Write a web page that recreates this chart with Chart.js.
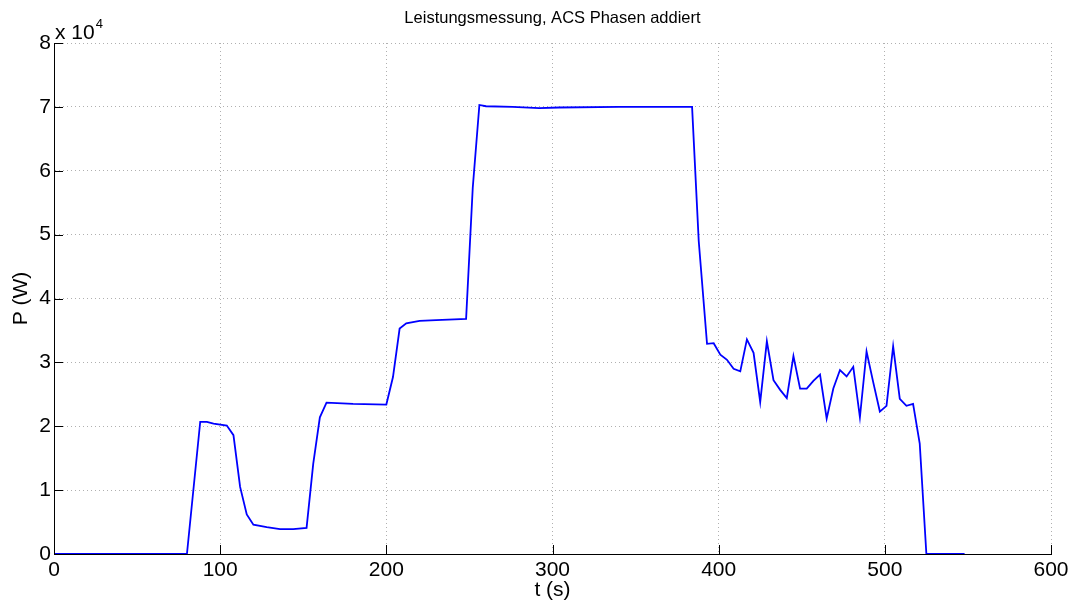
<!DOCTYPE html>
<html>
<head>
<meta charset="utf-8">
<title>Leistungsmessung</title>
<script src="https://cdn.jsdelivr.net/npm/chart.js"></script>
<style>
  body { margin: 0; background: #fff; }
</style>
</head>
<body>
<canvas id="powerChart" width="1081" height="601"></canvas>
<script>
// Leistung ueber Zeit, Summe der drei ACS-Phasen
const timeSec = [
  0, 80, 88, 92, 96, 104, 108, 112, 116, 120, 128, 136, 144, 152, 156, 160, 164, 180, 200,
  204, 208, 212, 220, 230, 248, 252, 256, 260, 276, 292, 304, 340, 384, 388,
  393, 397, 401, 405, 409, 413, 417, 421, 425, 429, 433, 437, 441, 445, 449, 453,
  457, 461, 465, 469, 473, 477, 481, 485, 489, 493, 497, 501, 505, 509, 513, 517,
  521, 525, 548
];
const powerW = [
  0, 0, 20700, 20700, 20400, 20100, 18600, 10500, 6200, 4600, 4200, 3900, 3900, 4100, 14100, 21400, 23700, 23500, 23400,
  27700, 35300, 36100, 36500, 36600, 36800, 57300, 70300, 70100, 70000, 69800, 69900, 70000, 70000, 49000,
  32900, 33000, 31200, 30400, 29000, 28600, 33600, 31500, 23800, 33300, 27200, 25700, 24400, 31000, 25900, 25900,
  27100, 28100, 21200, 25900, 28800, 27800, 29300, 21400, 31700, 26900, 22300, 23200, 32500, 24300, 23200, 23500,
  17300, 0, 0
];
const xTicks = [0, 100, 200, 300, 400, 500, 600];
const yTicks = [0, 10000, 20000, 30000, 40000, 50000, 60000, 70000, 80000];
const chartTitle = 'Leistungsmessung, ACS Phasen addiert';

const ctx = document.getElementById('powerChart').getContext('2d');
const fontFamily = '"Liberation Sans", Arial, Helvetica, sans-serif';

const points = timeSec.map((t, i) => ({ x: t, y: powerW[i] }));

// title centred over the axes, ticks pointing inwards, "x 10^4" exponent
const axesDecor = {
  id: 'axesDecor',
  afterDraw(chart) {
    const c = chart.ctx;
    const area = chart.chartArea;
    const xs = chart.scales.x;
    const ys = chart.scales.y;
    c.save();
    c.strokeStyle = '#000';
    c.lineWidth = 1;
    c.beginPath();
    xTicks.forEach(v => {
      const px = Math.round(xs.getPixelForValue(v)) + 0.5;
      c.moveTo(px, area.bottom);
      c.lineTo(px, area.bottom - 9);
    });
    yTicks.forEach(v => {
      const py = Math.round(ys.getPixelForValue(v)) + 0.5;
      c.moveTo(area.left, py);
      c.lineTo(area.left + 9, py);
    });
    c.stroke();

    c.fillStyle = '#000';
    c.textBaseline = 'alphabetic';
    c.font = '21px ' + fontFamily;
    c.fillText('x 10', area.left + 1, area.top - 4);
    const w = c.measureText('x 10').width;
    c.font = '13px ' + fontFamily;
    c.fillText('4', area.left + 1 + w + 1, area.top - 15);

    c.font = '16.5px ' + fontFamily;
    c.textAlign = 'center';
    c.fillText(chartTitle, (area.left + area.right) / 2, 23);
    c.restore();
  }
};

new Chart(ctx, {
  type: 'line',
  data: {
    datasets: [{
      label: 'P',
      data: points,
      borderColor: '#0000ff',
      borderWidth: 1.8,
      pointRadius: 0,
      tension: 0,
      fill: false
    }]
  },
  options: {
    responsive: false,
    animation: false,
    layout: { padding: { left: 0, right: 30, top: 43, bottom: 0 } },
    plugins: {
      legend: { display: false },
      tooltip: { enabled: false },
      title: { display: false }
    },
    scales: {
      x: {
        type: 'linear',
        min: 0,
        max: 600,
        afterFit(scale) { scale.height = 47; },
        ticks: {
          stepSize: 100,
          color: '#000',
          padding: 4,
          maxRotation: 0,
          font: { family: fontFamily, size: 21 }
        },
        grid: { color: '#b0b0b0', lineWidth: 1, drawTicks: false },
        border: { display: true, color: '#000', width: 1, dash: [1, 3] },
        title: {
          display: true,
          text: 't (s)',
          color: '#000',
          font: { family: fontFamily, size: 21 },
          padding: { top: 0, bottom: -2 }
        }
      },
      y: {
        min: 0,
        max: 80000,
        afterFit(scale) { scale.width = 54; },
        ticks: {
          stepSize: 10000,
          color: '#000',
          padding: 3,
          font: { family: fontFamily, size: 21 },
          callback: v => v / 10000
        },
        grid: { color: '#b0b0b0', lineWidth: 1, drawTicks: false },
        border: { display: true, color: '#000', width: 1, dash: [1, 3] },
        title: {
          display: true,
          text: 'P (W)',
          color: '#000',
          font: { family: fontFamily, size: 21 },
          padding: { top: 9, bottom: 0 }
        }
      }
    }
  },
  plugins: [axesDecor]
});
</script>
</body>
</html>
